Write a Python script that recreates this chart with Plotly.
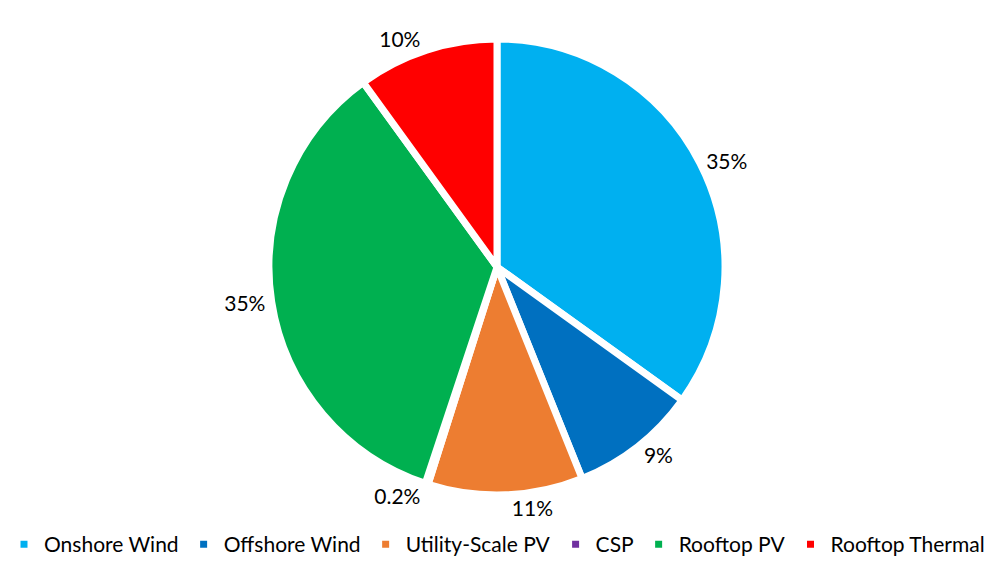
import plotly.graph_objects as go

# Share of renewable capacity by technology
categories = ["Onshore Wind", "Offshore Wind", "Utility-Scale PV", "CSP", "Rooftop PV", "Rooftop Thermal"]
shares = [35, 9, 11, 0.2, 35, 10]
colors = ["#00B0F0", "#0070C0", "#ED7D31", "#7030A0", "#00B050", "#FF0000"]

FONT = "Lato"

fig = go.Figure(
    go.Pie(
        labels=categories,
        values=shares,
        sort=False,
        direction="clockwise",
        rotation=0,
        marker=dict(colors=colors, line=dict(color="white", width=7)),
        texttemplate="%{value}%",
        textposition="outside",
        textfont=dict(family=FONT, size=21, color="#000000"),
        hoverinfo="label+value",
        domain=dict(x=[0.2706, 0.7294], y=[0.1239, 0.931]),
        automargin=False,
    )
)

fig.update_layout(
    width=994,
    height=565,
    margin=dict(l=0, r=0, t=0, b=0),
    paper_bgcolor="white",
    plot_bgcolor="white",
    showlegend=True,
    legend=dict(
        orientation="h",
        x=0.5,
        xanchor="center",
        y=0.0,
        yanchor="bottom",
        font=dict(family=FONT, size=21, color="#000000"),
        itemwidth=30,
        traceorder="normal",
    ),
)

fig.write_html("out.html")
